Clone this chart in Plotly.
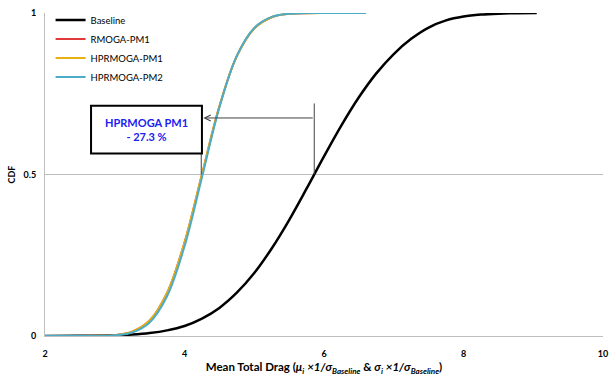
import plotly.graph_objects as go

# ---- data ----
x_base = [2.0, 2.5, 3.0, 3.25, 3.5, 3.75, 4.0, 4.25, 4.5, 4.75, 5.0, 5.25, 5.5, 5.75,
          6.0, 6.25, 6.5, 6.75, 7.0, 7.25, 7.5, 7.75, 8.0, 8.25, 8.5, 8.75, 9.05]
cdf_base = [0.0001, 0.0004, 0.0021, 0.0045, 0.0091, 0.0174, 0.031, 0.054, 0.087, 0.134,
            0.195, 0.271, 0.359, 0.456, 0.556, 0.652, 0.739, 0.813, 0.873, 0.920,
            0.955, 0.977, 0.989, 0.995, 0.998, 0.9995, 1.0]

x_pm = [2.0, 2.5, 2.75, 3.0, 3.25, 3.5, 3.75, 4.0, 4.25, 4.5, 4.75, 5.0, 5.25, 5.5,
        5.75, 6.0, 6.3, 6.6]
cdf_rmoga_pm1 = [0.0, 0.0001, 0.0004, 0.0026, 0.0131, 0.0478, 0.1333, 0.2893, 0.500,
                 0.7109, 0.8667, 0.9522, 0.9869, 0.9973, 0.9996, 1.0, 1.0, 1.0]
cdf_hprmoga_pm1 = [0.0, 0.0001, 0.0004, 0.0026, 0.0131, 0.0478, 0.1333, 0.2893, 0.500,
                   0.7109, 0.8667, 0.9522, 0.9869, 0.9973, 0.9996, 1.0, 1.0, 1.0]
cdf_hprmoga_pm2 = [0.0, 0.00003, 0.0003, 0.0021, 0.0109, 0.0421, 0.1232, 0.2773, 0.4909,
                   0.7072, 0.8673, 0.9537, 0.9878, 0.9976, 0.9997, 1.0, 1.0, 1.0]

series_names = ["Baseline", "RMOGA-PM1", "HPRMOGA-PM1", "HPRMOGA-PM2"]
x_ticks = [2, 4, 6, 8, 10]
y_ticks = [0, 0.5, 1]
y_tick_labels = ["0", "0.5", "1"]

baseline_median = 5.86
pm_median = 4.26
arrow_level = 0.675
reduction_pct = 27.3

font = "Lato, 'Open Sans', Arial, sans-serif"

fig = go.Figure()
fig.add_trace(go.Scatter(x=x_base, y=cdf_base, mode="lines", name=series_names[0],
                         line=dict(color="#000000", width=2.5, shape="spline")))
fig.add_trace(go.Scatter(x=x_pm, y=cdf_rmoga_pm1, mode="lines", name=series_names[1],
                         line=dict(color="#e03a3a", width=2, shape="spline")))
fig.add_trace(go.Scatter(x=x_pm, y=cdf_hprmoga_pm1, mode="lines", name=series_names[2],
                         line=dict(color="#e8b010", width=2, shape="spline")))
fig.add_trace(go.Scatter(x=x_pm, y=cdf_hprmoga_pm2, mode="lines", name=series_names[3],
                         line=dict(color="#4bacc6", width=2, shape="spline")))

# drop lines
fig.add_shape(type="line", x0=baseline_median, x1=baseline_median, y0=0.5, y1=0.72,
              line=dict(color="#404040", width=1))
fig.add_shape(type="line", x0=pm_median - 0.02, x1=pm_median - 0.02, y0=0.5, y1=0.565,
              line=dict(color="#404040", width=1))
# text box
fig.add_shape(type="rect", x0=2.66, x1=4.25, y0=0.565, y1=0.713,
              line=dict(color="#000000", width=2), fillcolor="white")
fig.add_annotation(x=(2.66 + 4.25) / 2, y=(0.565 + 0.713) / 2, xref="x", yref="y",
                   text=f"<b>HPRMOGA PM1<br>- {reduction_pct} %</b>", showarrow=False,
                   font=dict(family=font, size=11, color="#2020f0"), align="center")
# arrow
fig.add_annotation(x=pm_median + 0.01, y=arrow_level, ax=baseline_median, ay=arrow_level,
                   xref="x", yref="y", axref="x", ayref="y", text="", showarrow=True,
                   arrowhead=5, arrowsize=1.2, arrowwidth=1, arrowcolor="#404040")

fig.update_layout(
    width=610, height=381,
    margin=dict(l=45, r=7, t=12, b=45),
    paper_bgcolor="white", plot_bgcolor="white",
    font=dict(family=font, size=9, color="#000000"),
    showlegend=True,
    legend=dict(x=0.01, y=1.02, xanchor="left", yanchor="top", bgcolor="rgba(0,0,0,0)",
                font=dict(family=font, size=9.5), tracegroupgap=0),
    xaxis=dict(range=[2, 10], tickvals=x_ticks, ticktext=[f"<b>{t}</b>" for t in x_ticks],
               showgrid=False, zeroline=False, automargin=False,
               showline=True, linecolor="#bfbfbf", linewidth=1, ticks="",
               tickfont=dict(family=font, size=9), ticklabelstandoff=9,
               title=dict(text="<b>Mean Total Drag (<i>μ</i><sub><i>i</i></sub> <i>×1/σ</i><sub><i>Baseline</i></sub> &amp; <i>σ</i><sub><i>i</i></sub> <i>×1/σ</i><sub><i>Baseline</i></sub>)</b>",
                          font=dict(family=font, size=11.5), standoff=5)),
    yaxis=dict(range=[0, 1], tickvals=y_ticks, ticktext=[f"<b>{t}</b>" for t in y_tick_labels],
               showgrid=True, gridcolor="#bfbfbf", gridwidth=1, zeroline=False, automargin=False,
               showline=True, linecolor="#bfbfbf", linewidth=1, ticks="",
               tickfont=dict(family=font, size=9), ticklabelstandoff=6,
               title=dict(text="<b>CDF</b>", font=dict(family=font, size=9), standoff=6)),
)

fig.write_html("out.html")
